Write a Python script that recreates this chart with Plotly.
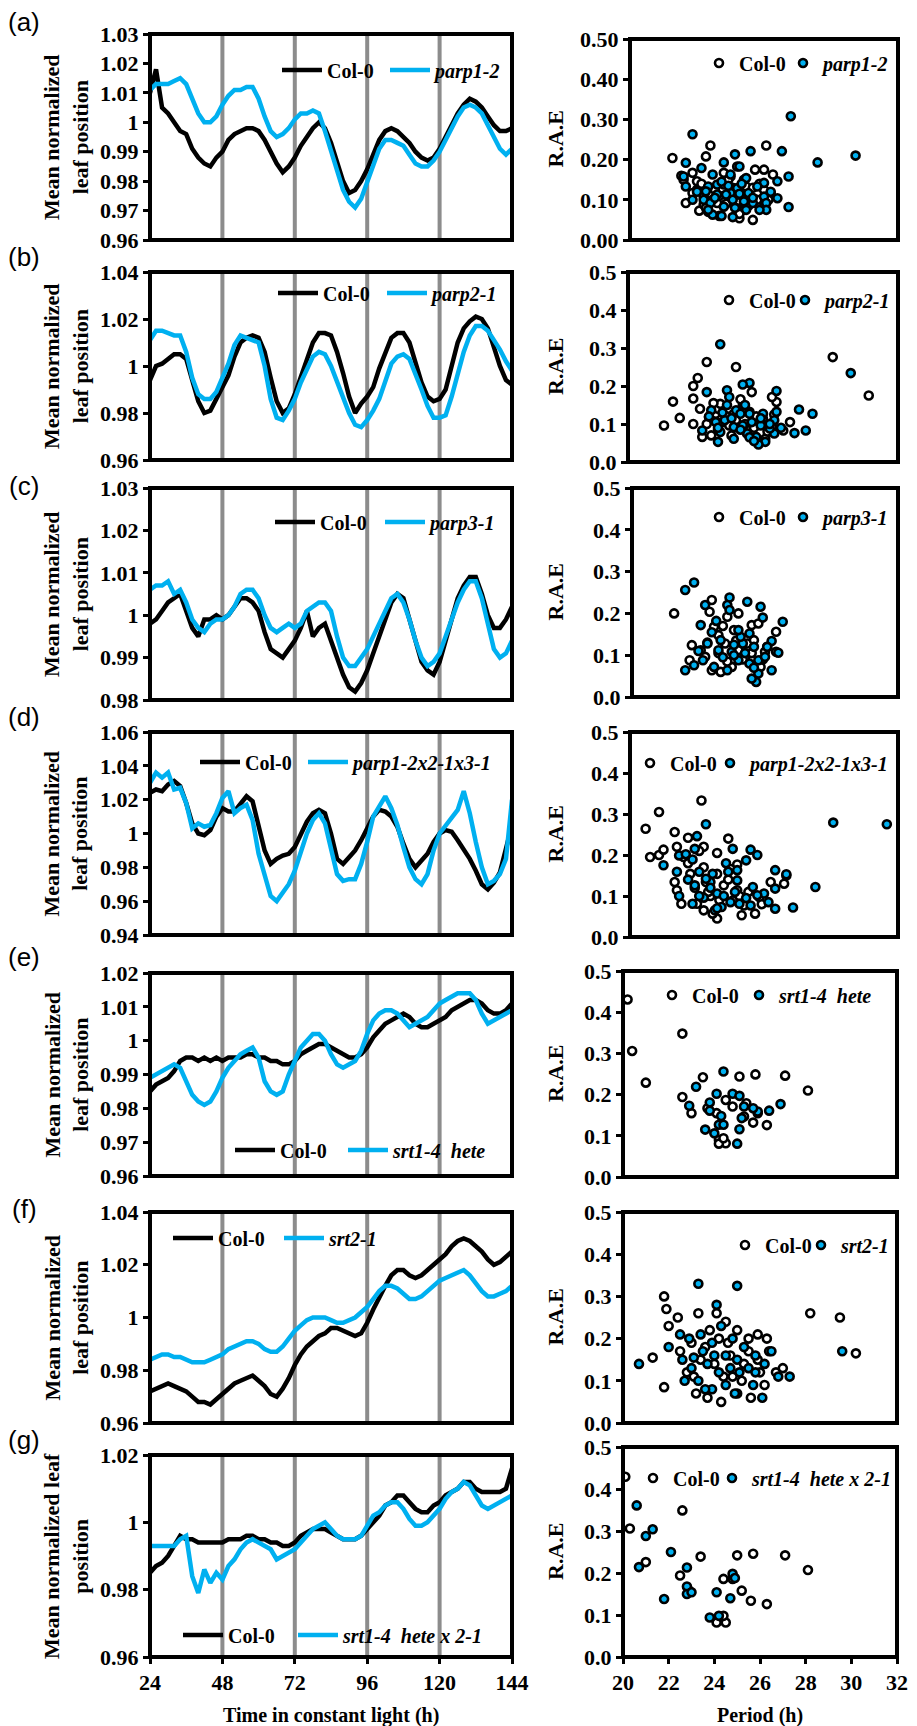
import plotly.graph_objects as go

W, H = 917, 1726
FONT = "Liberation Serif"
CYAN = "#00B0F0"
GRAY = "#8C8C8C"

# ---------------- data ----------------
HOURS = list(range(24, 145, 2))
DAWN_LINES = [48, 72, 96, 120]
PANEL_LETTERS = ["(a)", "(b)", "(c)", "(d)", "(e)", "(f)", "(g)"]
MUTANTS = ["parp1-2", "parp2-1", "parp3-1", "parp1-2x2-1x3-1",
           "srt1-4\u00a0 hete", "srt2-1", "srt1-4\u00a0 hete x 2-1"]

COL0_A = [1.010, 1.018, 1.005, 1.003, 1.000, 0.997, 0.996, 0.991, 0.988, 0.986, 0.985, 0.988, 0.990, 0.994, 0.996,
          0.997, 0.998, 0.998, 0.997, 0.994, 0.990, 0.986, 0.983, 0.985, 0.988, 0.992, 0.995, 0.998, 1.000, 0.998,
          0.993, 0.986, 0.980, 0.976, 0.977, 0.980, 0.984, 0.989, 0.994, 0.997, 0.998, 0.997, 0.995, 0.993, 0.990,
          0.988, 0.987, 0.988, 0.991, 0.995, 0.999, 1.003, 1.006, 1.008, 1.007, 1.005, 1.002, 0.999, 0.997, 0.997, 0.998]
MUT_A = [1.011, 1.013, 1.013, 1.013, 1.014, 1.015, 1.013, 1.008, 1.003, 1.000, 1.000, 1.002, 1.006, 1.009, 1.011,
         1.011, 1.012, 1.012, 1.008, 1.002, 0.997, 0.995, 0.996, 0.998, 1.001, 1.003, 1.003, 1.004, 1.003, 0.997,
         0.990, 0.983, 0.977, 0.973, 0.971, 0.974, 0.980, 0.986, 0.991, 0.994, 0.994, 0.993, 0.992, 0.989, 0.986,
         0.985, 0.985, 0.987, 0.990, 0.994, 0.998, 1.002, 1.005, 1.006, 1.005, 1.003, 0.999, 0.995, 0.991, 0.989, 0.991]
COL0_B = [0.994, 1.000, 1.001, 1.003, 1.005, 1.005, 1.003, 0.994, 0.985, 0.980, 0.981, 0.986, 0.991, 0.996, 1.004,
          1.010, 1.012, 1.013, 1.012, 1.006, 0.995, 0.985, 0.980, 0.982, 0.988, 0.995, 1.003, 1.010, 1.014, 1.014,
          1.013, 1.006, 0.997, 0.987, 0.980, 0.984, 0.987, 0.991, 0.999, 1.006, 1.012, 1.014, 1.014, 1.010, 1.002,
          0.993, 0.987, 0.985, 0.986, 0.990, 1.000, 1.010, 1.016, 1.019, 1.021, 1.020, 1.016, 1.008, 1.000, 0.994, 0.992]
MUT_B = [1.011, 1.015, 1.015, 1.014, 1.013, 1.013, 1.006, 0.995, 0.988, 0.986, 0.986, 0.989, 0.995, 1.001, 1.009,
         1.013, 1.012, 1.011, 1.010, 1.000, 0.986, 0.978, 0.977, 0.981, 0.986, 0.993, 0.998, 1.004, 1.006, 1.005,
         1.000, 0.993, 0.987, 0.980, 0.975, 0.974, 0.977, 0.981, 0.986, 0.993, 1.001, 1.004, 1.005, 1.003, 0.997,
         0.990, 0.983, 0.978, 0.978, 0.979, 0.987, 0.996, 1.006, 1.013, 1.017, 1.017, 1.015, 1.011, 1.007, 1.002, 0.998]
COL0_C = [0.998, 0.999, 1.001, 1.003, 1.004, 1.005, 1.001, 0.997, 0.995, 0.999, 0.999, 1.000, 0.999, 1.000, 1.002,
          1.004, 1.004, 1.003, 1.001, 0.996, 0.992, 0.991, 0.990, 0.992, 0.994, 0.997, 1.001, 0.995, 0.997, 0.998,
          0.994, 0.990, 0.986, 0.983, 0.982, 0.984, 0.987, 0.991, 0.995, 0.999, 1.003, 1.005, 1.004, 0.999, 0.994,
          0.989, 0.987, 0.986, 0.989, 0.994, 0.999, 1.004, 1.007, 1.009, 1.009, 1.005, 1.000, 0.997, 0.997, 0.999, 1.002]
MUT_C = [1.006, 1.007, 1.007, 1.008, 1.005, 1.006, 1.003, 0.999, 0.997, 0.996, 0.998, 0.999, 0.999, 1.000, 1.002,
         1.005, 1.006, 1.006, 1.004, 1.000, 0.997, 0.996, 0.997, 0.998, 0.997, 0.998, 1.001, 1.002, 1.003, 1.003,
         1.001, 0.995, 0.990, 0.988, 0.988, 0.990, 0.992, 0.995, 0.998, 1.001, 1.004, 1.005, 1.003, 0.999, 0.994,
         0.990, 0.988, 0.989, 0.991, 0.995, 0.999, 1.003, 1.006, 1.008, 1.008, 1.004, 0.998, 0.992, 0.990, 0.991, 0.994]
COL0_D = [1.024, 1.026, 1.025, 1.029, 1.031, 1.028, 1.018, 1.006, 1.000, 0.999, 1.002, 1.010, 1.015, 1.013, 1.013,
          1.018, 1.022, 1.019, 1.005, 0.990, 0.982, 0.985, 0.987, 0.988, 0.992, 1.000, 1.007, 1.012, 1.014, 1.012,
          1.000, 0.985, 0.982, 0.986, 0.990, 0.996, 1.003, 1.010, 1.014, 1.013, 1.010, 1.004, 0.994, 0.985, 0.980,
          0.984, 0.988, 0.995, 1.000, 1.002, 1.001, 0.996, 0.991, 0.985, 0.978, 0.970, 0.967, 0.971, 0.977, 0.990, 1.005]
MUT_D = [1.030, 1.036, 1.033, 1.036, 1.026, 1.027, 1.018, 1.003, 1.006, 1.004, 1.005, 1.012, 1.021, 1.025, 1.012,
         1.015, 1.017, 1.008, 0.988, 0.975, 0.963, 0.960, 0.965, 0.970, 0.978, 0.990, 1.000, 1.008, 1.012, 1.006,
         0.990, 0.976, 0.972, 0.973, 0.973, 0.982, 0.995, 1.010, 1.016, 1.022, 1.015, 1.005, 0.992, 0.980, 0.973,
         0.970, 0.976, 0.990, 1.000, 1.005, 1.009, 1.014, 1.025, 1.012, 0.995, 0.980, 0.970, 0.972, 0.976, 0.985, 1.020]
COL0_E = [0.985, 0.987, 0.988, 0.989, 0.991, 0.994, 0.995, 0.995, 0.994, 0.995, 0.994, 0.995, 0.994, 0.995, 0.995,
          0.995, 0.996, 0.996, 0.995, 0.995, 0.994, 0.994, 0.993, 0.993, 0.994, 0.996, 0.997, 0.998, 0.999, 0.999,
          0.998, 0.997, 0.996, 0.995, 0.995, 0.996, 0.998, 1.001, 1.003, 1.005, 1.006, 1.007, 1.008, 1.007, 1.005,
          1.004, 1.004, 1.005, 1.006, 1.007, 1.009, 1.010, 1.011, 1.012, 1.012, 1.011, 1.009, 1.008, 1.008, 1.009, 1.011]
MUT_E = [0.989, 0.990, 0.991, 0.992, 0.993, 0.992, 0.988, 0.984, 0.982, 0.981, 0.982, 0.985, 0.989, 0.992, 0.994,
         0.996, 0.997, 0.998, 0.995, 0.988, 0.985, 0.984, 0.985, 0.990, 0.994, 0.998, 1.000, 1.002, 1.002, 1.000,
         0.996, 0.993, 0.992, 0.993, 0.994, 0.997, 1.002, 1.006, 1.008, 1.009, 1.009, 1.008, 1.006, 1.004, 1.005,
         1.006, 1.007, 1.009, 1.011, 1.012, 1.013, 1.014, 1.014, 1.014, 1.012, 1.008, 1.005, 1.006, 1.007, 1.008, 1.009]
COL0_F = [0.972, 0.973, 0.974, 0.975, 0.974, 0.973, 0.972, 0.970, 0.968, 0.968, 0.967, 0.969, 0.971, 0.973, 0.975,
          0.976, 0.977, 0.978, 0.976, 0.974, 0.971, 0.970, 0.973, 0.977, 0.982, 0.986, 0.989, 0.991, 0.993, 0.994,
          0.996, 0.996, 0.995, 0.994, 0.993, 0.994, 0.998, 1.003, 1.008, 1.012, 1.016, 1.018, 1.018, 1.016, 1.015,
          1.016, 1.018, 1.020, 1.022, 1.024, 1.027, 1.029, 1.030, 1.029, 1.027, 1.025, 1.022, 1.020, 1.021, 1.023, 1.025]
MUT_F = [0.984, 0.985, 0.986, 0.986, 0.985, 0.985, 0.984, 0.983, 0.983, 0.983, 0.984, 0.985, 0.986, 0.988, 0.989,
         0.990, 0.991, 0.991, 0.990, 0.988, 0.987, 0.987, 0.989, 0.992, 0.995, 0.997, 0.999, 1.000, 1.000, 1.000,
         0.999, 0.998, 0.998, 0.999, 1.000, 1.002, 1.004, 1.007, 1.010, 1.012, 1.012, 1.011, 1.009, 1.007, 1.007,
         1.008, 1.010, 1.012, 1.014, 1.015, 1.016, 1.017, 1.018, 1.016, 1.013, 1.010, 1.008, 1.008, 1.009, 1.010, 1.012]
COL0_G = [0.985, 0.987, 0.988, 0.990, 0.993, 0.996, 0.995, 0.995, 0.994, 0.994, 0.994, 0.994, 0.994, 0.995, 0.995,
          0.995, 0.996, 0.996, 0.995, 0.995, 0.994, 0.994, 0.993, 0.993, 0.994, 0.996, 0.997, 0.998, 0.998, 0.998,
          0.997, 0.996, 0.995, 0.995, 0.995, 0.996, 0.998, 1.000, 1.002, 1.005, 1.006, 1.008, 1.008, 1.006, 1.004,
          1.003, 1.003, 1.005, 1.006, 1.008, 1.009, 1.010, 1.012, 1.012, 1.010, 1.009, 1.009, 1.009, 1.009, 1.010, 1.016]
MUT_G = [0.993, 0.993, 0.993, 0.993, 0.993, 0.995, 0.996, 0.984, 0.979, 0.986, 0.982, 0.985, 0.983, 0.987, 0.989,
         0.992, 0.994, 0.995, 0.994, 0.993, 0.992, 0.989, 0.990, 0.991, 0.992, 0.994, 0.996, 0.998, 0.999, 1.000,
         0.998, 0.996, 0.995, 0.995, 0.995, 0.996, 0.999, 1.002, 1.003, 1.005, 1.006, 1.006, 1.004, 1.001, 0.999,
         0.999, 1.000, 1.002, 1.004, 1.007, 1.009, 1.010, 1.012, 1.011, 1.008, 1.005, 1.004, 1.005, 1.006, 1.007, 1.008]

# period (h) and R.A.E values
PER_COL0_A = [21.9, 23.6, 23.4, 22.8, 22.5, 23.1, 26.1, 26.0, 25.6, 26.4, 25.5, 24.9, 24.2, 23.3, 23.8, 24.5, 25.1,
              25.2, 22.8, 24.5, 23.9, 23.3, 25.7, 24.8, 26.0, 25.1, 26.0, 24.8, 24.2, 22.4, 23.0, 26.3, 25.4,
              22.3, 23.0, 24.0, 24.6, 25.8, 23.5, 23.2, 23.7, 24.3, 24.7, 25.0, 25.5, 26.2, 24.0, 24.4, 25.3,
              23.4, 24.9]
RAE_COL0_A = [0.204, 0.235, 0.208, 0.167, 0.092, 0.073, 0.235, 0.175, 0.175, 0.163, 0.050, 0.054, 0.138, 0.108, 0.125,
              0.158, 0.150, 0.133, 0.117, 0.100, 0.092, 0.088, 0.100, 0.079, 0.083, 0.075, 0.125, 0.183, 0.167, 0.150,
              0.146, 0.117, 0.096, 0.160, 0.125, 0.110, 0.130, 0.140, 0.070, 0.140, 0.100, 0.090, 0.120, 0.110,
              0.130, 0.100, 0.060, 0.150, 0.085, 0.080, 0.065]
PER_MUT_A = [22.8, 27.2, 28.4, 30.1, 25.4, 26.8, 24.7, 24.2, 22.5, 22.4, 23.2, 23.7, 24.9, 27.1, 26.6, 26.0, 22.5,
             23.5, 23.9, 24.5, 25.3, 26.0, 26.6, 23.3, 23.6, 24.2, 24.6, 25.1, 25.5, 26.1, 27.1, 26.1, 25.2, 23.7,
             24.1, 24.6, 24.3, 24.8, 23.9, 25.7, 23.4, 25.8, 24.5, 25.2, 22.8, 23.0, 23.8, 24.4, 24.9, 25.5, 26.3,
             24.1, 25.0, 23.5, 24.7]
RAE_MUT_A = [0.263, 0.308, 0.193, 0.210, 0.221, 0.221, 0.213, 0.193, 0.192, 0.158, 0.179, 0.163, 0.183, 0.158, 0.146,
             0.142, 0.133, 0.133, 0.138, 0.117, 0.117, 0.108, 0.104, 0.100, 0.092, 0.083, 0.100, 0.096, 0.092, 0.092,
             0.082, 0.075, 0.075, 0.063, 0.060, 0.057, 0.113, 0.129, 0.113, 0.133, 0.121, 0.075, 0.163, 0.154, 0.100,
             0.120, 0.105, 0.135, 0.115, 0.105, 0.120, 0.145, 0.140, 0.075, 0.080]
PER_COL0_B = [21.6, 22.0, 22.3, 22.9, 22.9, 22.9, 23.1, 23.5, 24.8, 29.1, 30.7, 25.5, 26.6, 26.4, 26.9, 23.3, 23.7,
              23.2, 23.9, 23.6, 24.0, 24.7, 24.2, 24.9, 25.3, 25.8, 26.1, 24.5, 25.4, 26.0, 27.2, 25.1, 24.1, 26.4,
              23.5, 24.0, 24.4, 24.8, 25.2, 25.6, 26.2, 23.8, 25.0, 25.7, 24.6, 26.5]
RAE_COL0_B = [0.096, 0.159, 0.116, 0.100, 0.167, 0.200, 0.221, 0.263, 0.250, 0.276, 0.175, 0.184, 0.158, 0.171, 0.083,
              0.066, 0.070, 0.140, 0.127, 0.118, 0.140, 0.127, 0.105, 0.092, 0.075, 0.057, 0.061, 0.096, 0.132, 0.114,
              0.105, 0.149, 0.153, 0.092, 0.100, 0.085, 0.120, 0.110, 0.100, 0.090, 0.080, 0.155, 0.165, 0.120,
              0.070, 0.125]
PER_MUT_B = [24.1, 29.9, 27.6, 28.2, 27.9, 27.4, 26.6, 25.4, 25.1, 24.4, 23.5, 23.3, 24.0, 23.7, 24.5, 24.8, 25.4,
             26.0, 26.6, 24.3, 25.1, 25.9, 26.5, 24.1, 24.7, 25.3, 25.7, 26.1, 26.5, 24.7, 23.9, 25.5, 25.0, 26.3, 25.8,
             23.6, 24.2, 24.6, 25.0, 25.4, 25.9, 26.3, 24.4, 25.2, 26.8, 24.0, 25.6]
RAE_MUT_B = [0.310, 0.234, 0.138, 0.127, 0.083, 0.076, 0.187, 0.208, 0.204, 0.189, 0.184, 0.083, 0.053, 0.136, 0.171,
             0.136, 0.127, 0.127, 0.132, 0.110, 0.096, 0.096, 0.110, 0.079, 0.061, 0.075, 0.066, 0.053, 0.075, 0.092,
             0.105, 0.105, 0.127, 0.088, 0.046, 0.120, 0.130, 0.115, 0.085, 0.065, 0.115, 0.100, 0.150, 0.150,
             0.090, 0.090, 0.055]
PER_COL0_C = [21.9, 23.6, 23.5, 24.3, 24.8, 25.4, 25.7, 26.0, 26.5, 26.5, 22.7, 22.6, 23.1, 23.6, 24.0, 24.5, 23.3,
              23.9, 24.2, 24.8, 25.2, 25.1, 25.5, 25.8, 23.7, 24.6, 23.4, 23.9, 24.3, 24.7, 25.0, 25.4, 26.1, 24.1,
              25.9]
RAE_COL0_C = [0.200, 0.232, 0.204, 0.192, 0.200, 0.172, 0.176, 0.108, 0.108, 0.156, 0.124, 0.088, 0.112, 0.064, 0.060,
              0.072, 0.096, 0.148, 0.128, 0.112, 0.128, 0.092, 0.136, 0.072, 0.168, 0.160, 0.130, 0.105, 0.085,
              0.135, 0.090, 0.105, 0.120, 0.170, 0.090]
PER_MUT_C = [22.4, 22.8, 24.4, 25.2, 25.8, 25.9, 26.8, 26.3, 26.6, 26.3, 25.6, 25.4, 22.4, 23.3, 23.8, 24.3, 24.4,
             23.1, 23.4, 22.8, 23.2, 23.7, 24.3, 24.8, 25.3, 25.7, 23.9, 24.5, 25.0, 25.5, 24.0, 24.9, 24.6, 26.0,
             25.7, 25.3, 23.6, 24.1, 24.6, 25.1, 25.5, 26.1, 23.0, 24.8]
RAE_MUT_C = [0.256, 0.274, 0.238, 0.228, 0.216, 0.190, 0.180, 0.134, 0.106, 0.064, 0.036, 0.044, 0.064, 0.220, 0.182,
             0.220, 0.208, 0.172, 0.128, 0.076, 0.088, 0.072, 0.064, 0.088, 0.080, 0.088, 0.112, 0.108, 0.128, 0.120,
             0.136, 0.144, 0.100, 0.096, 0.056, 0.152, 0.155, 0.095, 0.125, 0.105, 0.070, 0.120, 0.110, 0.160]
PER_COL0_D = [20.7, 20.9, 21.3, 21.3, 21.5, 22.0, 22.1, 22.6, 23.2, 23.3, 24.4, 23.9, 24.8, 22.0, 22.1, 22.3, 26.3,
              26.9, 27.0, 23.9, 25.0, 25.6, 23.3, 23.0, 23.7, 23.6, 24.2, 24.6, 25.1, 25.8, 23.3, 23.9, 23.4, 24.5,
              22.7, 22.4, 24.8, 22.9, 23.5, 24.0, 24.4, 25.3, 25.9, 22.6, 23.1, 24.9]
RAE_COL0_D = [0.264, 0.195, 0.305, 0.200, 0.213, 0.256, 0.220, 0.242, 0.333, 0.220, 0.240, 0.205, 0.177, 0.134, 0.114,
              0.081, 0.134, 0.130, 0.150, 0.045, 0.053, 0.057, 0.065, 0.081, 0.057, 0.100, 0.126, 0.089, 0.077, 0.097,
              0.170, 0.154, 0.134, 0.166, 0.154, 0.195, 0.114, 0.120, 0.110, 0.090, 0.140, 0.110, 0.080, 0.180,
              0.210, 0.100]
PER_MUT_D = [29.1, 31.5, 23.4, 23.0, 21.5, 22.8, 22.2, 22.5, 22.1, 22.9, 24.6, 25.4, 25.7, 25.2, 24.4, 24.8, 26.5,
             27.0, 26.5, 27.3, 28.3, 26.5, 22.2, 22.8, 23.1, 23.6, 22.9, 23.3, 23.8, 24.1, 24.5, 24.9, 25.4, 25.5,
             26.0, 25.7, 23.9, 24.8, 23.7, 23.4, 23.1, 23.6, 24.2, 24.7, 25.2, 26.2, 22.6, 24.3, 23.9]
RAE_MUT_D = [0.279, 0.275, 0.275, 0.246, 0.175, 0.189, 0.199, 0.202, 0.159, 0.215, 0.215, 0.213, 0.200, 0.187, 0.159,
             0.163, 0.163, 0.153, 0.069, 0.072, 0.122, 0.118, 0.100, 0.081, 0.159, 0.134, 0.126, 0.096, 0.065, 0.073,
             0.085, 0.081, 0.077, 0.122, 0.106, 0.102, 0.106, 0.138, 0.154, 0.142, 0.100, 0.120, 0.100, 0.110,
             0.095, 0.085, 0.140, 0.180, 0.070]
PER_COL0_E = [20.2, 20.4, 21.0, 22.6, 22.6, 23.0, 23.5, 25.1, 25.8, 27.1, 28.1, 26.3, 25.7, 24.5, 24.8, 24.2, 24.5,
              24.2, 24.4, 25.4, 23.7, 24.1, 25.3, 25.9]
RAE_COL0_E = [0.431, 0.306, 0.229, 0.348, 0.194, 0.155, 0.242, 0.244, 0.249, 0.246, 0.210, 0.126, 0.132, 0.187, 0.171,
              0.090, 0.082, 0.081, 0.094, 0.179, 0.167, 0.155, 0.147, 0.155]
PER_MUT_E = [24.4, 23.2, 22.9, 23.8, 24.1, 23.8, 24.3, 24.8, 25.1, 25.3, 25.2, 25.9, 25.7, 26.4, 26.9, 24.2, 24.4,
             23.6, 24.0, 25.1, 25.0]
RAE_MUT_E = [0.256, 0.219, 0.173, 0.181, 0.202, 0.161, 0.148, 0.202, 0.197, 0.171, 0.143, 0.159, 0.167, 0.161, 0.177,
             0.127, 0.127, 0.115, 0.106, 0.116, 0.081]
PER_COL0_F = [21.8, 21.9, 22.0, 21.3, 21.8, 22.4, 23.3, 23.8, 24.1, 24.5, 24.2, 25.0, 25.5, 25.9, 26.3, 22.5, 22.8,
              23.2, 23.7, 24.3, 25.0, 25.6, 26.2, 26.7, 27.0, 28.2, 29.5, 30.2, 23.4, 24.0, 24.7, 25.3, 25.9, 26.4,
              23.0, 24.4, 25.2, 26.0, 23.6, 24.6, 25.5, 23.1, 24.8]
RAE_COL0_F = [0.300, 0.270, 0.230, 0.155, 0.085, 0.250, 0.260, 0.220, 0.260, 0.240, 0.200, 0.220, 0.200, 0.210, 0.200,
              0.170, 0.120, 0.070, 0.060, 0.050, 0.070, 0.060, 0.090, 0.120, 0.130, 0.260, 0.250, 0.165, 0.150, 0.140,
              0.160, 0.140, 0.150, 0.170, 0.190, 0.110, 0.100, 0.120, 0.180, 0.190, 0.170, 0.110, 0.110]
PER_MUT_F = [20.7, 22.0, 22.5, 23.3, 24.1, 25.0, 22.6, 23.0, 23.5, 23.9, 24.3, 24.8, 25.3, 25.8, 26.2, 26.8, 27.3,
             22.7, 23.3, 23.9, 24.5, 25.1, 25.7, 26.1, 23.1, 23.7, 24.2, 24.7, 25.5, 29.6, 26.5, 22.9, 24.0, 25.0,
             23.4, 24.5, 25.8, 23.6, 24.9]
RAE_MUT_F = [0.140, 0.180, 0.210, 0.330, 0.280, 0.325, 0.150, 0.130, 0.170, 0.190, 0.230, 0.200, 0.180, 0.160, 0.140,
             0.110, 0.110, 0.100, 0.100, 0.080, 0.090, 0.120, 0.090, 0.060, 0.155, 0.140, 0.120, 0.130, 0.130, 0.170,
             0.170, 0.200, 0.160, 0.150, 0.210, 0.160, 0.120, 0.080, 0.070]
PER_COL0_G = [20.1, 20.3, 21.0, 22.5, 22.6, 23.4, 24.4, 25.0, 25.7, 25.2, 25.6, 26.3, 27.1, 28.1, 24.1, 24.5, 24.4,
              24.8, 22.9]
RAE_COL0_G = [0.429, 0.306, 0.226, 0.194, 0.349, 0.239, 0.186, 0.242, 0.246, 0.158, 0.134, 0.126, 0.242, 0.207, 0.082,
              0.082, 0.098, 0.186, 0.158]
PER_MUT_G = [20.6, 20.7, 21.0, 21.3, 21.8, 22.1, 22.8, 22.8, 22.8, 23.0, 23.8, 24.2, 24.1, 24.7, 24.8, 24.9]
RAE_MUT_G = [0.361, 0.214, 0.288, 0.304, 0.138, 0.250, 0.213, 0.168, 0.150, 0.154, 0.094, 0.098, 0.154, 0.140, 0.198,
             0.188]

COL0_LINES = [COL0_A, COL0_B, COL0_C, COL0_D, COL0_E, COL0_F, COL0_G]
MUT_LINES = [MUT_A, MUT_B, MUT_C, MUT_D, MUT_E, MUT_F, MUT_G]
COL0_PER = [PER_COL0_A, PER_COL0_B, PER_COL0_C, PER_COL0_D, PER_COL0_E, PER_COL0_F, PER_COL0_G]
COL0_RAE = [RAE_COL0_A, RAE_COL0_B, RAE_COL0_C, RAE_COL0_D, RAE_COL0_E, RAE_COL0_F, RAE_COL0_G]
MUT_PER = [PER_MUT_A, PER_MUT_B, PER_MUT_C, PER_MUT_D, PER_MUT_E, PER_MUT_F, PER_MUT_G]
MUT_RAE = [RAE_MUT_A, RAE_MUT_B, RAE_MUT_C, RAE_MUT_D, RAE_MUT_E, RAE_MUT_F, RAE_MUT_G]

LEFT_YTICKS = [
    [0.96, 0.97, 0.98, 0.99, 1.00, 1.01, 1.02, 1.03],
    [0.96, 0.98, 1.00, 1.02, 1.04],
    [0.98, 0.99, 1.00, 1.01, 1.02, 1.03],
    [0.94, 0.96, 0.98, 1.00, 1.02, 1.04, 1.06],
    [0.96, 0.97, 0.98, 0.99, 1.00, 1.01, 1.02],
    [0.96, 0.98, 1.00, 1.02, 1.04],
    [0.96, 0.98, 1.00, 1.02],
]
RAE_TICKS = [0.0, 0.1, 0.2, 0.3, 0.4, 0.5]
TIME_TICKS = [24, 48, 72, 96, 120, 144]
PERIOD_TICKS = [20, 22, 24, 26, 28, 30, 32]

# ---------------- layout geometry (pixels) ----------------
LEFT_BOX = [(150, 512, 34, 240), (150, 512, 272, 460), (150, 512, 488, 700), (150, 512, 732, 935),
            (150, 512, 973, 1176), (150, 512, 1212, 1423), (150, 512, 1455, 1657)]
RIGHT_BOX = [(630, 898, 39, 240), (628, 898, 272, 462), (632, 898, 488, 697), (630, 898, 732, 937),
             (623, 897, 971, 1177), (623, 897, 1212, 1423), (623, 897, 1447, 1657)]
# left legends: (line start x, centre y, spacing between the two entries)
LEFT_LEG = [(282, 70, 108), (278, 293, 109), (275, 522, 110), (200, 762, 108), (235, 1150, 113),
            (173, 1238, 111), (183, 1635, 115)]
# right legends: (right end x of text, centre y, spacing between the two markers)
RIGHT_LEG = [(890, 63, 84), (892, 300, 76), (890, 517, 84), (890, 763, 80), (873, 995, 87),
             (890, 1245, 76), (892, 1478, 79)]
LETTER_Y = [22, 257, 486, 717, 957, 1209, 1440]


def xdom(a, b):
    return [a / W, b / W]


def ydom(t, b):
    return [1 - b / H, 1 - t / H]


def axname(n, kind):
    return kind if n == 1 else f"{kind}{n}"


def fmt_g(v):
    return "%g" % v


tickfont = dict(family=FONT, size=22, color="black", weight="bold")
legfont = dict(family=FONT, size=20, color="black", weight="bold")

fig = go.Figure()
shapes = []
annotations = []
layout = dict(width=W, height=H, margin=dict(l=0, r=0, t=0, b=0, autoexpand=False),
              paper_bgcolor="white", plot_bgcolor="white", showlegend=True,
              font=dict(family=FONT, color="black"))

LINE_ITEMW = 40
for i in range(7):
    nl, nr = 2 * i + 1, 2 * i + 2
    legl = axname(nl, "legend")
    legr = axname(nr, "legend")
    lx, ly, lsp = LEFT_LEG[i]
    rx, ry, rsp = RIGHT_LEG[i]
    # ---- left: time series ----
    fig.add_trace(go.Scatter(x=HOURS, y=COL0_LINES[i], mode="lines", name="Col-0",
                             line=dict(color="black", width=4.5), xaxis=axname(nl, "x"), yaxis=axname(nl, "y"),
                             legend=legl, legendwidth=lsp - (LINE_ITEMW + 15)))
    fig.add_trace(go.Scatter(x=HOURS, y=MUT_LINES[i], mode="lines", name=f"<i>{MUTANTS[i]}</i>",
                             line=dict(color=CYAN, width=4.5), xaxis=axname(nl, "x"), yaxis=axname(nl, "y"),
                             legend=legl))
    # ---- right: period vs RAE ----
    fig.add_trace(go.Scatter(x=COL0_PER[i], y=COL0_RAE[i], mode="markers", name="Col-0",
                             marker=dict(color="white", size=8, line=dict(color="black", width=2.6)),
                             xaxis=axname(nr, "x"), yaxis=axname(nr, "y"), legend=legr,
                             legendwidth=rsp - 45))
    fig.add_trace(go.Scatter(x=MUT_PER[i], y=MUT_RAE[i], mode="markers", name=f"<i>{MUTANTS[i]}</i>",
                             marker=dict(color=CYAN, size=8, line=dict(color="black", width=2.6)),
                             xaxis=axname(nr, "x"), yaxis=axname(nr, "y"), legend=legr))

    bottom = (i == 6)
    x0, x1, t, b = LEFT_BOX[i]
    yt = LEFT_YTICKS[i]
    layout[axname(nl, "xaxis")] = dict(domain=xdom(x0, x1), range=[24, 144], anchor=axname(nl, "y"),
                                       showgrid=False, zeroline=False, showline=False,
                                       tickvals=TIME_TICKS if bottom else [],
                                       ticktext=[str(v) for v in TIME_TICKS] if bottom else [],
                                       ticks="outside" if bottom else "", ticklen=6, tickwidth=3,
                                       tickcolor="black", showticklabels=bottom, tickfont=tickfont)
    layout[axname(nl, "yaxis")] = dict(domain=ydom(t, b), range=[yt[0], yt[-1]], anchor=axname(nl, "x"),
                                       showgrid=False, zeroline=False, showline=False,
                                       tickvals=yt, ticktext=[fmt_g(v) for v in yt],
                                       ticks="outside", ticklen=6, tickwidth=3, tickcolor="black",
                                       tickfont=tickfont)
    xr0, xr1, tr, br = RIGHT_BOX[i]
    layout[axname(nr, "xaxis")] = dict(domain=xdom(xr0, xr1), range=[20, 32], anchor=axname(nr, "y"),
                                       showgrid=False, zeroline=False, showline=False,
                                       tickvals=PERIOD_TICKS if bottom else [],
                                       ticktext=[str(v) for v in PERIOD_TICKS] if bottom else [],
                                       ticks="outside" if bottom else "", ticklen=6, tickwidth=3,
                                       tickcolor="black", showticklabels=bottom, tickfont=tickfont)
    rfmt = "%.2f" if i == 0 else "%.1f"
    layout[axname(nr, "yaxis")] = dict(domain=ydom(tr, br), range=[0, 0.5], anchor=axname(nr, "x"),
                                       showgrid=False, zeroline=False, showline=False,
                                       tickvals=RAE_TICKS, ticktext=[rfmt % v for v in RAE_TICKS],
                                       ticks="outside", ticklen=6, tickwidth=3, tickcolor="black",
                                       tickfont=tickfont)
    # frames
    for n in (nl, nr):
        shapes.append(dict(type="rect", xref=axname(n, "x") + " domain", yref=axname(n, "y") + " domain",
                           x0=0, x1=1, y0=0, y1=1, line=dict(color="black", width=4), layer="above"))
    for h in DAWN_LINES:
        shapes.append(dict(type="line", xref=axname(nl, "x"), yref=axname(nl, "y") + " domain",
                           x0=h, x1=h, y0=0, y1=1, line=dict(color=GRAY, width=4), layer="below"))
    # legends
    layout[legl] = dict(orientation="h", x=(lx - 5) / W, y=1 - ly / H, xanchor="left", yanchor="middle",
                        bgcolor="rgba(0,0,0,0)", font=legfont, itemwidth=LINE_ITEMW, traceorder="normal")
    layout[legr] = dict(orientation="h", x=(rx + 5) / W, y=1 - ry / H, xanchor="right", yanchor="middle",
                        bgcolor="rgba(0,0,0,0)", font=legfont, itemwidth=30, traceorder="normal")
    # axis titles
    ytitle = "Mean normalized leaf<br>position" if i == 6 else "Mean normalized<br>leaf position"
    annotations.append(dict(text=ytitle, x=66 / W, y=1 - (t + b) / 2 / H, xref="paper", yref="paper",
                            textangle=-90, showarrow=False, xanchor="center", yanchor="middle",
                            font=dict(family=FONT, size=22, color="black", weight="bold")))
    annotations.append(dict(text="R.A.E", x=555 / W, y=1 - (tr + br) / 2 / H, xref="paper", yref="paper",
                            textangle=-90, showarrow=False, xanchor="center", yanchor="middle",
                            font=dict(family=FONT, size=22, color="black", weight="bold")))
    annotations.append(dict(text=PANEL_LETTERS[i], x=24 / W, y=1 - LETTER_Y[i] / H, xref="paper", yref="paper",
                            showarrow=False, xanchor="center", yanchor="middle",
                            font=dict(family="Liberation Sans", size=26, color="black")))

annotations.append(dict(text="Time in constant light (h)", x=331 / W, y=1 - 1715 / H, xref="paper", yref="paper",
                        showarrow=False, xanchor="center", yanchor="middle",
                        font=dict(family=FONT, size=20, color="black", weight="bold")))
annotations.append(dict(text="Period (h)", x=760 / W, y=1 - 1715 / H, xref="paper", yref="paper",
                        showarrow=False, xanchor="center", yanchor="middle",
                        font=dict(family=FONT, size=20, color="black", weight="bold")))

layout["shapes"] = shapes
layout["annotations"] = annotations
fig.update_layout(**layout)
fig.write_html("out.html")
